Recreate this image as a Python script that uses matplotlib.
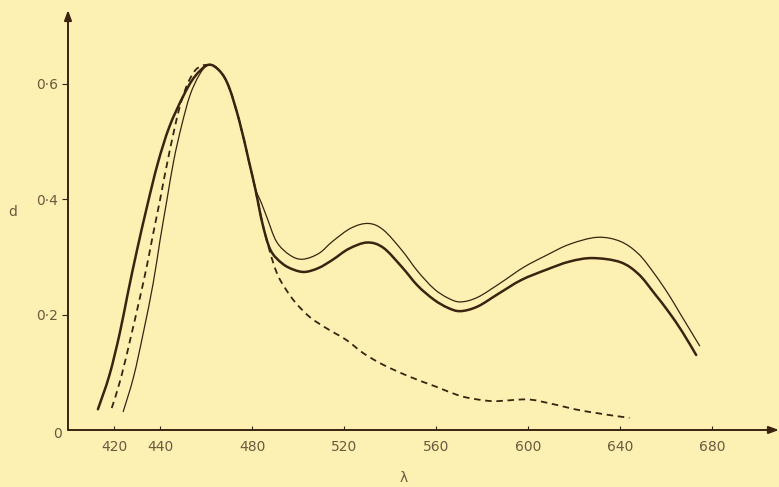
import numpy as np
import matplotlib
matplotlib.use("Agg")
import matplotlib.pyplot as plt
from matplotlib.path import Path
from matplotlib.patches import PathPatch

# Absorption spectra: optical density d against wavelength (nm)
thick_nm = [413, 418, 422.5, 426, 430, 434.5, 439, 444, 450, 455, 461, 466, 470,
            474.5, 478.5, 481.5, 484.5, 488, 493, 498, 503, 509, 515, 522, 530,
            537, 545, 552, 559, 565, 570.5, 578, 587, 597, 608, 618, 628,
            640, 648, 655, 661, 667, 673]
thick_d = [0.036, 0.095, 0.168, 0.237, 0.312, 0.39, 0.462, 0.525, 0.578, 0.612,
           0.633, 0.622, 0.594, 0.535, 0.468, 0.416, 0.358, 0.312, 0.289, 0.278,
           0.274, 0.281, 0.295, 0.314, 0.325, 0.316, 0.283, 0.250, 0.226, 0.212,
           0.206, 0.214, 0.236, 0.260, 0.278, 0.292, 0.298, 0.291, 0.270, 0.236,
           0.205, 0.170, 0.130]

thin_nm = [424, 428.5, 432.7, 437, 440, 443, 446, 449.4, 453, 457, 461, 466, 470,
           474.5, 478.5, 481.5, 484, 486.5, 490.7, 496.5, 502, 509, 515, 523,
           530.5, 537, 545, 552, 559, 565, 570.5, 578, 588, 598, 608, 618, 630,
           640, 648, 655, 661, 666, 674.5]
thin_d = [0.032, 0.092, 0.168, 0.254, 0.329, 0.399, 0.468, 0.528, 0.580, 0.615,
          0.633, 0.622, 0.594, 0.535, 0.468, 0.418, 0.394, 0.368, 0.326, 0.303,
          0.296, 0.306, 0.327, 0.350, 0.358, 0.347, 0.312, 0.275, 0.245, 0.229,
          0.222, 0.230, 0.255, 0.282, 0.303, 0.322, 0.334, 0.327, 0.305, 0.270,
          0.235, 0.202, 0.146]

dash_nm = [419, 423, 427.7, 431, 434.2, 437, 440, 444.3, 449.4, 455, 461, 466,
           470, 474.5, 478.5, 481.5, 484.5, 487, 489.5, 492.2, 498, 505, 512.5,
           521, 528.4, 537, 548.7, 560, 569, 575, 585, 599.5, 609.5, 624, 644]
dash_d = [0.038, 0.090, 0.168, 0.225, 0.283, 0.340, 0.399, 0.486, 0.572, 0.622,
          0.633, 0.622, 0.594, 0.535, 0.468, 0.416, 0.358, 0.320, 0.286, 0.260,
          0.225, 0.196, 0.176, 0.156, 0.133, 0.113, 0.092, 0.075, 0.061, 0.055,
          0.050, 0.053, 0.046, 0.033, 0.021]

x_ticks = [420, 440, 480, 520, 560, 600, 640, 680]
y_ticks = [0.2, 0.4, 0.6]
y_tick_labels = ["0·2", "0·4", "0·6"]

BG = "#fcf0b3"
INK = "#3a2410"
TXT = "#6b5a3e"


def smooth_path(xs, ys):
    """Catmull-Rom curve through the points, as cubic Bezier segments."""
    p = np.column_stack([xs, ys]).astype(float)
    ext = np.vstack([p[0], p, p[-1]])
    verts = [p[0]]
    codes = [Path.MOVETO]
    for i in range(1, len(ext) - 2):
        p0, p1, p2, p3 = ext[i - 1], ext[i], ext[i + 1], ext[i + 2]
        c1 = p1 + (p2 - p0) / 6.0
        c2 = p2 - (p3 - p1) / 6.0
        verts += [c1, c2, p2]
        codes += [Path.CURVE4] * 3
    return Path(verts, codes)


fig = plt.figure(figsize=(7.79, 4.87), dpi=100, facecolor=BG)
W, H = 779, 487
x0, y0, x1, y1 = 68, 430, 779, 10
ax = fig.add_axes([x0 / W, (H - y0) / H, (x1 - x0) / W, (y0 - y1) / H])
ax.set_facecolor(BG)
ax.set_xlim(400, 709)
ax.set_ylim(0, 0.728)
for s in ax.spines.values():
    s.set_visible(False)

# axes drawn as arrows
ax.annotate("", xy=(1.0, 0), xytext=(0, 0), xycoords="axes fraction",
            arrowprops=dict(arrowstyle="-|>,head_length=0.6,head_width=0.22",
                            color=INK, lw=1.4, shrinkA=0, shrinkB=0))
ax.annotate("", xy=(0, 1.0), xytext=(0, 0), xycoords="axes fraction",
            arrowprops=dict(arrowstyle="-|>,head_length=0.6,head_width=0.22",
                            color=INK, lw=1.4, shrinkA=0, shrinkB=0))

ax.plot(thick_nm, thick_d, alpha=0)
ax.add_patch(PathPatch(smooth_path(thin_nm, thin_d), fill=False, ec=INK, lw=0.9,
                       capstyle="round"))
ax.add_patch(PathPatch(smooth_path(dash_nm, dash_d), fill=False, ec=INK, lw=1.3,
                       ls=(0, (3.6, 2.6))))
ax.add_patch(PathPatch(smooth_path(thick_nm, thick_d), fill=False, ec=INK, lw=1.8,
                       capstyle="round"))

ax.set_xticks(x_ticks)
ax.set_xticklabels([str(v) for v in x_ticks])
ax.set_yticks(y_ticks)
ax.set_yticklabels(y_tick_labels)
ax.tick_params(axis="x", direction="in", length=3, width=0.8, color=INK,
               labelcolor=TXT, labelsize=10, pad=7)
ax.tick_params(axis="y", direction="out", length=4, width=0.8, color=INK,
               labelcolor=TXT, labelsize=10, pad=3)

fig.text(57 / W, (H - 434) / H, "0", color=TXT, fontsize=10, ha="center", va="center")
fig.text(13 / W, (H - 212) / H, "d", color=TXT, fontsize=10, ha="center", va="center")
fig.text(404 / W, 2 / H, "λ", color=TXT, fontsize=10, ha="center", va="bottom")

fig.savefig("out.png", dpi=100, facecolor=BG)
